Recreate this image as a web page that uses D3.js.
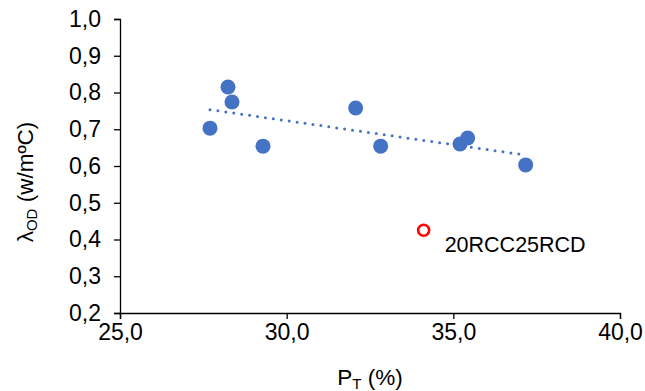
<!DOCTYPE html>
<html>
<head>
<meta charset="utf-8">
<script src="https://cdn.jsdelivr.net/npm/d3@7"></script>
<style>
  body { margin: 0; background: #fff; }
  svg text { font-family: "Liberation Sans", Arial, sans-serif; fill: #000; }
</style>
</head>
<body>
<svg id="chart" width="645" height="391"></svg>
<script>
// Total porosity (%) vs. oven-dry thermal conductivity
const porosity     = [27.70, 28.24, 28.36, 29.29, 32.07, 32.82, 35.20, 35.43, 37.17];
const conductivity = [0.703, 0.815, 0.774, 0.654, 0.758, 0.654, 0.660, 0.676, 0.603];

// Outlier mix, plotted separately and excluded from the trend
const outlierName = "20RCC25RCD";
const outlierPorosity = 34.11;
const outlierConductivity = 0.425;

const xTicks = [25, 30, 35, 40];
const yTicks = [0.2, 0.3, 0.4, 0.5, 0.6, 0.7, 0.8, 0.9, 1.0];

const margin = { left: 120, right: 25, top: 19, bottom: 78 };
const W = 645, H = 391;
const svg = d3.select("#chart");

const x = d3.scaleLinear().domain([25, 40]).range([margin.left, W - margin.right]);
const y = d3.scaleLinear().domain([0.2, 1.0]).range([H - margin.bottom, margin.top]);

const fmt = d => d.toFixed(1).replace(".", ",");

// Axes
const xAxis = svg.append("g")
  .attr("transform", `translate(0,${y(0.2)})`)
  .call(d3.axisBottom(x).tickValues(xTicks).tickFormat(fmt).tickSizeOuter(0).tickSize(6).tickPadding(5));
const yAxis = svg.append("g")
  .attr("transform", `translate(${x(25)},0)`)
  .call(d3.axisLeft(y).tickValues(yTicks).tickFormat(fmt).tickSizeOuter(0).tickSize(6).tickPadding(13));

[xAxis, yAxis].forEach(g => {
  g.select(".domain").attr("stroke", "#000").attr("stroke-width", 1.3);
  g.selectAll(".tick line").attr("stroke", "#000").attr("stroke-width", 1.3);
  g.selectAll(".tick text").attr("font-size", 23).attr("fill", "#000")
    .style("font-family", "'Liberation Sans', Arial, sans-serif");
});

// Linear least-squares trend over the blue points
const mx = d3.mean(porosity), my = d3.mean(conductivity);
let sxy = 0, sxx = 0;
porosity.forEach((px, i) => { sxy += (px - mx) * (conductivity[i] - my); sxx += (px - mx) ** 2; });
const slope = sxy / sxx, intercept = my - slope * mx;
const [x0, x1] = d3.extent(porosity);

svg.append("line")
  .attr("x1", x(x0)).attr("y1", y(intercept + slope * x0))
  .attr("x2", x(x1)).attr("y2", y(intercept + slope * x1))
  .attr("stroke", "#4472C4").attr("stroke-width", 3)
  .attr("stroke-linecap", "round").attr("stroke-dasharray", "0,8");

// Data points
svg.append("g").selectAll("circle")
  .data(porosity.map((px, i) => [px, conductivity[i]]))
  .join("circle")
  .attr("cx", d => x(d[0])).attr("cy", d => y(d[1]))
  .attr("r", 7.5).attr("fill", "#4472C4");

// Outlier
svg.append("circle")
  .attr("cx", x(outlierPorosity)).attr("cy", y(outlierConductivity))
  .attr("r", 5.5).attr("fill", "none").attr("stroke", "#FF0000").attr("stroke-width", 2.6);
svg.append("text")
  .attr("x", x(outlierPorosity) + 21).attr("y", y(outlierConductivity) + 22)
  .attr("font-size", 21.5).text(outlierName);

// Axis titles
const xt = svg.append("text").attr("x", x(32.5)).attr("y", 385)
  .attr("text-anchor", "middle").attr("font-size", 22.5);
xt.append("tspan").text("P");
xt.append("tspan").attr("font-size", 15).attr("dy", 4).text("T");
xt.append("tspan").attr("dy", -4).text(" (%)");

const yt = svg.append("text")
  .attr("transform", `translate(33,${(y(0.2) + y(1.0)) / 2 + 16}) rotate(-90)`)
  .attr("text-anchor", "middle").attr("font-size", 22.5);
yt.append("tspan").text("λ");
yt.append("tspan").attr("font-size", 15).attr("dy", 4).text("OD");
yt.append("tspan").attr("dy", -4).text(" (w/mºC)");
</script>
</body>
</html>
